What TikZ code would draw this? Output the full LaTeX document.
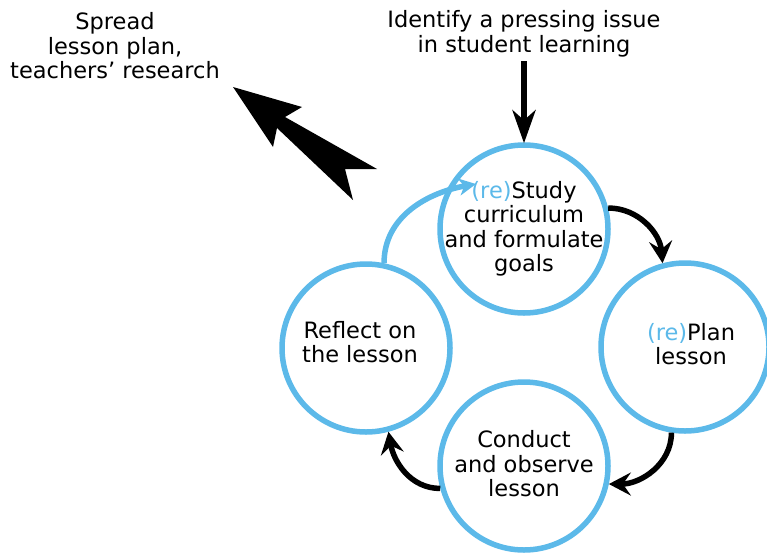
\documentclass[tikz,border=0pt]{standalone}
\usepackage{fontspec}
\setmainfont{DejaVu Sans}
\usepackage{xcolor}
\usetikzlibrary{arrows, arrows.meta, calc, positioning}
\definecolor{cycleblue}{RGB}{92,185,233}
\newcommand{\reprefix}{\textcolor{cycleblue}{(re)}}
\tikzset{
  % Stage circle style
  stage/.style={
    circle, draw=cycleblue,
    line width=5.5pt,
    minimum size=168pt, inner sep=0pt
  },
  % Free text style
  lbl/.style={
    align=center, inner sep=0pt,
    font=\fontsize{22.5}{24.5}\selectfont
  },
  % Cycle arrow style
  carr/.style={
    line width=5.5pt,
    -{Stealth[length=22pt, width=23pt, inset=8pt]}
  },
}

\begin{document}
\begin{tikzpicture}[x=1pt, y=-1pt]
  \useasboundingbox (0,0) rectangle (767,554);

  \node[stage] (study)   at (524,229) {};
  \node[stage] (plan)    at (685,347) {};
  \node[stage] (conduct) at (524,466) {};
  \node[stage] (reflect) at (366,348) {};

  \node[lbl] (studytxt)   at (study)    {\reprefix Study\\curriculum\\and formulate\\goals};
  \node[lbl] (plantxt)    at ([xshift=6pt,yshift=3pt]plan) {\reprefix Plan\\lesson};
  \node[lbl] (conducttxt) at ([yshift=2pt]conduct)  {Conduct\\and observe\\lesson};
  \node[lbl] (reflecttxt) at ([xshift=-6pt,yshift=6pt]reflect) {Reflect on\\the lesson};

  \node[lbl] (issue)  at (524,34) {Identify a pressing issue\\in student learning};
  \node[lbl] (spread) at (115,46) {Spread\\lesson plan,\\teachers’ research};

  \coordinate (restudy) at (476,184);

  % entry arrow
  \draw[line width=6.5pt, -{Stealth[length=33pt, width=23pt, inset=10pt]}]
    ([yshift=-4pt]issue.south) -- ([yshift=-1pt]study.north);

  % the cycle
  \draw[carr] (study.14) to[out=0,in=95] (plan.105);
  \draw[carr] (plan.261) to[out=-90,in=0] (conduct.-12);
  \draw[carr] (conduct.195) to[out=180,in=-80] (reflect.285);
  \draw[carr, cycleblue, -{Stealth[length=17pt, width=17pt, inset=5pt]}]
    (reflect.78) to[out=90,in=190] (restudy);

  % spreading arrow
  \fill (233,87) -- (302,107) -- (285,117) -- (377,169) -- (345,169)
    -- (353,200) -- (277,128) -- (273,147) -- cycle;
\end{tikzpicture}
\end{document}
